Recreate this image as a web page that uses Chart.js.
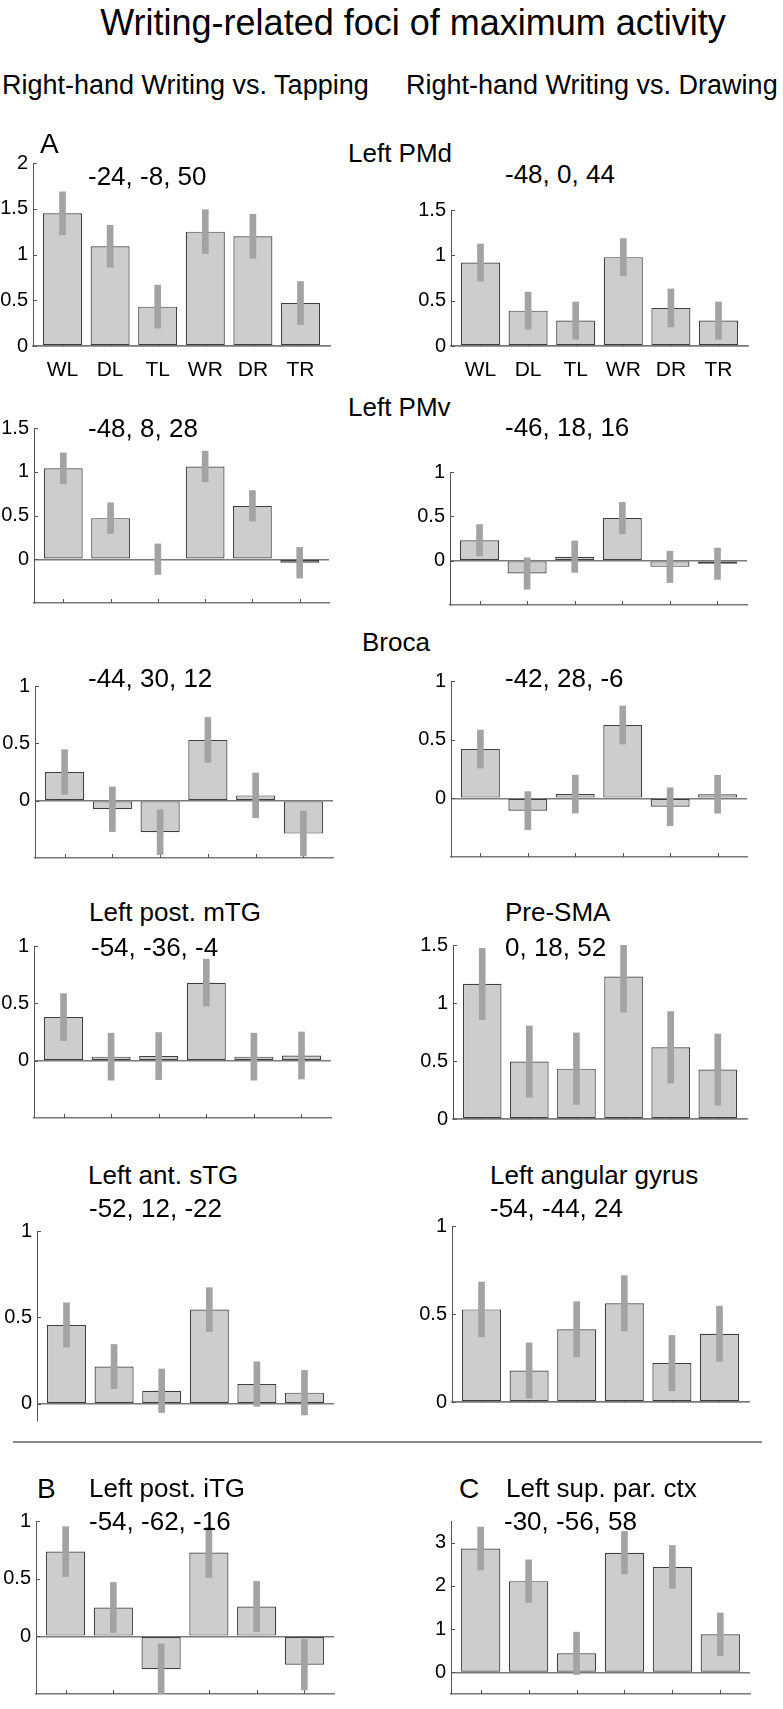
<!DOCTYPE html>
<html><head><meta charset="utf-8">
<script src="https://cdn.jsdelivr.net/npm/chart.js@4.4.1/dist/chart.umd.min.js"></script>
<style>
html,body{margin:0;padding:0;background:#fff;}
body{width:783px;height:1709px;position:relative;overflow:hidden;font-family:"Liberation Sans",Arial,sans-serif;color:#000;}
.t{position:absolute;white-space:nowrap;line-height:1;font-size:26px;}
canvas{position:absolute;}
.sep{position:absolute;height:0;border-top:2px solid #8a8a8a;}
</style></head><body>
<div class="t" style="left:413px;top:5px;font-size:36px;transform:translateX(-50%)">Writing-related foci of maximum activity</div>
<div class="t" style="left:2px;top:72px;font-size:27px">Right-hand Writing vs. Tapping</div>
<div class="t" style="left:406px;top:72px;font-size:27px">Right-hand Writing vs. Drawing</div>
<div class="t" style="left:40px;top:129.6px;font-size:28px">A</div>
<div class="t" style="left:348px;top:139.6px">Left PMd</div>
<div class="t" style="left:88px;top:162.6px">-24, -8, 50</div>
<div class="t" style="left:505px;top:160.6px">-48, 0, 44</div>
<div class="t" style="left:348px;top:393.6px">Left PMv</div>
<div class="t" style="left:88px;top:414.6px">-48, 8, 28</div>
<div class="t" style="left:505px;top:413.6px">-46, 18, 16</div>
<div class="t" style="left:362px;top:628.6px">Broca</div>
<div class="t" style="left:88px;top:664.6px">-44, 30, 12</div>
<div class="t" style="left:505px;top:664.6px">-42, 28, -6</div>
<div class="t" style="left:89px;top:898.6px">Left post. mTG</div>
<div class="t" style="left:91px;top:933.6px">-54, -36, -4</div>
<div class="t" style="left:505px;top:898.6px">Pre-SMA</div>
<div class="t" style="left:505px;top:933.6px">0, 18, 52</div>
<div class="t" style="left:88px;top:1161.6px">Left ant. sTG</div>
<div class="t" style="left:89px;top:1194.6px">-52, 12, -22</div>
<div class="t" style="left:490px;top:1161.6px">Left angular gyrus</div>
<div class="t" style="left:490px;top:1194.6px">-54, -44, 24</div>
<div class="sep" style="left:13px;top:1441px;width:749px"></div>
<div class="t" style="left:37px;top:1474.6px;font-size:28px">B</div>
<div class="t" style="left:89px;top:1474.6px">Left post. iTG</div>
<div class="t" style="left:89px;top:1507.6px">-54, -62, -16</div>
<div class="t" style="left:459px;top:1474.6px;font-size:28px">C</div>
<div class="t" style="left:506px;top:1474.6px">Left sup. par. ctx</div>
<div class="t" style="left:504px;top:1507.6px">-30, -56, 58</div>
<script>
// ---------- data ----------
const categories = ['WL','DL','TL','WR','DR','TR'];

const pmdTapMean = [1.45, 1.09, 0.43, 1.25, 1.20, 0.47];
const pmdTapErr  = [0.235, 0.23, 0.235, 0.24, 0.24, 0.235];
const pmdDrawMean = [0.92, 0.39, 0.28, 0.98, 0.42, 0.28];
const pmdDrawErr  = [0.205, 0.205, 0.205, 0.205, 0.21, 0.205];

const pmvTapMean = [1.04, 0.47, 0.0, 1.06, 0.61, -0.04];
const pmvTapErr  = [0.175, 0.175, 0.175, 0.175, 0.175, 0.175];
const pmvDrawMean = [0.23, -0.145, 0.045, 0.48, -0.07, -0.035];
const pmvDrawErr  = [0.177, 0.177, 0.177, 0.177, 0.177, 0.177];

const brocaTapMean = [0.25, -0.075, -0.275, 0.53, 0.046, -0.287];
const brocaTapErr  = [0.195, 0.195, 0.195, 0.195, 0.195, 0.195];
const brocaDrawMean = [0.42, -0.105, 0.036, 0.625, -0.072, 0.035];
const brocaDrawErr  = [0.162, 0.162, 0.162, 0.162, 0.162, 0.162];

const mtgMean = [0.38, 0.035, 0.04, 0.68, 0.035, 0.045];
const mtgErr  = [0.205, 0.205, 0.205, 0.205, 0.205, 0.205];
const presmaMean = [1.165, 0.495, 0.434, 1.229, 0.618, 0.426];
const presmaErr  = [0.307, 0.307, 0.308, 0.307, 0.308, 0.307];

const stgMean = [0.456, 0.215, 0.075, 0.545, 0.114, 0.064];
const stgErr  = [0.128, 0.128, 0.126, 0.127, 0.129, 0.129];
const angMean = [0.526, 0.179, 0.413, 0.561, 0.221, 0.388];
const angErr  = [0.156, 0.157, 0.157, 0.157, 0.157, 0.157];

const itgMean = [0.735, 0.25, -0.286, 0.727, 0.258, -0.246];
const itgErr  = [0.216, 0.217, 0.22, 0.217, 0.218, 0.219];
const sparMean = [2.864, 2.109, 0.44, 2.767, 2.438, 0.88];
const sparErr  = [0.496, 0.493, 0.49, 0.493, 0.496, 0.493];

const ticksTo2   = [0, 0.5, 1, 1.5, 2];
const ticksTo15  = [0, 0.5, 1, 1.5];
const ticksTo1   = [0, 0.5, 1];
const ticksTo3   = [0, 1, 2, 3];

const rangePmdTap = [0, 2];
const rangePmdDraw = [0, 1.5];
const rangePmvTap = [-0.5, 1.5];
const rangeNeg = [-0.5, 1];
const rangePresma = [0, 1.5];
const rangeStg = [-0.1, 1];
const rangeAng = [0, 1];
const rangeSpar = [-0.5, 3.5];

// ---------- layout (pixel positions of axes) ----------
const panels = [
  {mean:pmdTapMean, err:pmdTapErr, ticks:ticksTo2, range:rangePmdTap, ax:33, right:330, top:158, bottom:346, labels:true, bottomAxis:true},
  {mean:pmdDrawMean, err:pmdDrawErr, ticks:ticksTo15, range:rangePmdDraw, ax:451, right:748, top:205, bottom:346, labels:true, bottomAxis:true},
  {mean:pmvTapMean, err:pmvTapErr, ticks:ticksTo15, range:rangePmvTap, ax:34, right:329, top:423, bottom:614, bottomAxis:true},
  {mean:pmvDrawMean, err:pmvDrawErr, ticks:ticksTo1, range:rangeNeg, ax:450, right:747, top:467, bottom:616, bottomAxis:true},
  {mean:brocaTapMean, err:brocaTapErr, ticks:ticksTo1, range:rangeNeg, ax:35, right:333, top:681, bottom:869, bottomAxis:true},
  {mean:brocaDrawMean, err:brocaDrawErr, ticks:ticksTo1, range:rangeNeg, ax:451, right:747, top:676, bottom:868, bottomAxis:true},
  {mean:mtgMean, err:mtgErr, ticks:ticksTo1, range:rangeNeg, ax:34, right:331, top:941, bottom:1129, bottomAxis:true},
  {mean:presmaMean, err:presmaErr, ticks:ticksTo15, range:rangePresma, ax:453, right:747, top:940, bottom:1130, bottomAxis:true},
  {mean:stgMean, err:stgErr, ticks:ticksTo1, range:rangeStg, ax:37, right:334, top:1226, bottom:1432, bottomAxis:false},
  {mean:angMean, err:angErr, ticks:ticksTo1, range:rangeAng, ax:452, right:749, top:1221, bottom:1413, bottomAxis:true},
  {mean:itgMean, err:itgErr, ticks:ticksTo1, range:rangeNeg, ax:36, right:334, top:1516, bottom:1705, bottomAxis:true},
  {mean:sparMean, err:sparErr, ticks:ticksTo3, range:rangeSpar, ax:451, right:750, top:1516, bottom:1705, bottomAxis:true}
];

const FONT = "'Liberation Sans', Arial, sans-serif";
const X_MIN = 0.38, X_MAX = 6.62;
const YW = 50, PT = 12, PR = 12;

const inTicks = {
  id: 'inTicks',
  beforeDatasetsDraw(chart, args, opts) {
    const {ctx, chartArea: a, scales: {x, y}} = chart;
    ctx.save();
    ctx.strokeStyle = '#555';
    ctx.lineWidth = 1;
    ctx.beginPath();
    y.ticks.forEach(t => {
      const py = Math.round(y.getPixelForValue(t.value)) + 0.5;
      ctx.moveTo(a.left, py); ctx.lineTo(a.left + 4, py);
    });
    if (opts.bottom) {
      x.ticks.forEach(t => {
        const px = Math.round(x.getPixelForValue(t.value)) + 0.5;
        ctx.moveTo(px, a.bottom); ctx.lineTo(px, a.bottom - 4);
      });
    }
    ctx.stroke();
    ctx.restore();
  }
};

panels.forEach(p => {
  const plotW = p.right - p.ax, plotH = p.bottom - p.top;
  const xh = p.labels ? 36 : 6;
  const w = YW + plotW + PR, h = PT + plotH + xh;
  const c = document.createElement('canvas');
  c.width = w; c.height = h;
  c.style.width = w + 'px'; c.style.height = h + 'px';
  c.style.left = (p.ax - YW) + 'px';
  c.style.top = (p.top - PT) + 'px';
  document.body.insertBefore(c, document.body.firstChild);

  const barData = p.mean.map((m, i) => ({x: i + 1, y: m}));
  const errData = p.mean.map((m, i) => ({x: i + 1, y: [m - p.err[i], m + p.err[i]]}));

  new Chart(c, {
    type: 'bar',
    data: {
      datasets: [
        {data: barData, order: 2, grouped: false, backgroundColor: '#cdcdcd', borderColor: '#3f3f3f', borderWidth: 1.2, borderSkipped: false, barPercentage: 0.82, categoryPercentage: 1},
        {data: errData, order: 1, grouped: false, backgroundColor: '#a3a3a3', borderWidth: 0, barThickness: 6}
      ]
    },
    options: {
      responsive: false, animation: false, devicePixelRatio: 1,
      layout: {padding: {top: PT, right: PR, left: 0, bottom: 0}},
      plugins: {legend: {display: false}, tooltip: {enabled: false}, inTicks: {bottom: p.bottomAxis}},
      scales: {
        x: {
          type: 'linear', min: X_MIN, max: X_MAX, offset: false,
          afterBuildTicks: s => { s.ticks = categories.map((_, i) => ({value: i + 1})); },
          afterFit: s => { s.height = xh; },
          grid: {display: false},
          border: {display: p.bottomAxis, color: '#7a7a7a', width: 1.5},
          ticks: {display: !!p.labels, autoSkip: false, maxRotation: 0, padding: 4, color: '#000',
                  font: {size: 21, family: FONT}, callback: v => categories[v - 1]}
        },
        y: {
          min: p.range[0], max: p.range[1],
          afterBuildTicks: s => { s.ticks = p.ticks.map(v => ({value: v})); },
          afterFit: s => { s.width = YW; },
          grid: {drawTicks: false, lineWidth: 1.5,
                 color: ctx => (ctx.tick && ctx.tick.value === 0) ? '#7a7a7a' : 'rgba(0,0,0,0)'},
          border: {color: '#555', width: 1},
          ticks: {padding: 5, color: '#000', font: {size: 20, family: FONT}, callback: v => String(v)}
        }
      }
    },
    plugins: [inTicks]
  });
});
</script>
</body></html>
